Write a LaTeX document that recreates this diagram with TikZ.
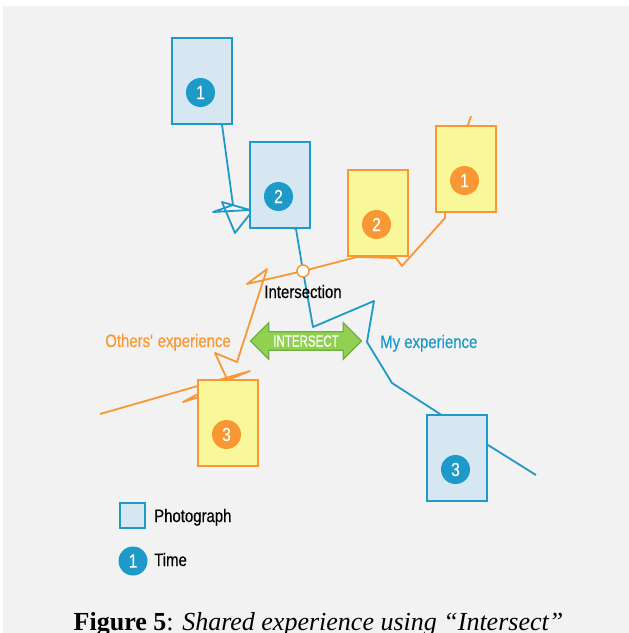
\documentclass[tikz,border=0pt]{standalone}
\usepackage{fontspec}
\usepackage{tikz}
\usetikzlibrary{calc}
\usetikzlibrary{backgrounds}
\usetikzlibrary{shapes.arrows}
\usetikzlibrary{positioning}
\newfontfamily\condfont[FakeStretch=0.83,FakeBold=0.4]{Liberation Sans}
\newfontfamily\narrowfont[FakeStretch=0.72,FakeBold=0.4]{Liberation Sans}
\newfontfamily\capfont{Liberation Serif}
\definecolor{myblue}{RGB}{29,154,200}
\definecolor{photofill}{RGB}{214,231,241}
\definecolor{othorange}{RGB}{247,152,52}
\definecolor{othfill}{RGB}{248,248,154}
\definecolor{isgreen}{RGB}{146,208,82}
\definecolor{isgreendark}{RGB}{110,176,66}
\definecolor{bggray}{RGB}{242,242,242}
\tikzset{photoB/.style={rectangle,draw=myblue,fill=photofill,line width=2pt,minimum width=60pt,minimum height=86pt,inner sep=0pt}}
\tikzset{photoO/.style={photoB,draw=othorange,fill=othfill}}
\tikzset{timeB/.style={circle,fill=myblue,minimum size=29pt,inner sep=0pt,text=white,font=\condfont\fontsize{19}{19}\selectfont}}
\tikzset{timeO/.style={timeB,fill=othorange}}
\tikzset{lbl/.style={inner sep=0pt,font=\condfont\fontsize{18}{18}\selectfont}}
\tikzset{trackB/.style={draw=myblue,line width=1.8pt,line join=round}}
\tikzset{trackO/.style={draw=othorange,line width=1.8pt,line join=round}}
\tikzset{isect/.style={circle,draw=othorange,fill=white,line width=1.5pt,minimum size=12pt,inner sep=0pt}}
\tikzset{
isarrow/.style={double arrow,fill=isgreen,draw=isgreendark,line width=1.2pt,
            minimum height=111pt,double arrow head extend=9pt,inner xsep=2pt,inner ysep=3pt,
            text=white,font=\narrowfont\fontsize{16}{16}\selectfont}
}
\begin{document}
\begin{tikzpicture}[x=1pt,y=-1pt]
\useasboundingbox (0,0) rectangle (629,633);
\foreach \i / \px / \py in {1/202/81,2/280/185,3/457/458}
{
	\node (PB\i) at (\px,\py) [photoB] {};
	\node (TB\i) at ($(PB\i)+(-1.5,11.5)$) [timeB] {\i};
}
\foreach \i / \px / \py in {1/466/169,2/378/213,3/228/423}
{
	\node (PO\i) at (\px,\py) [photoO] {};
	\node (TO\i) at ($(PO\i)+(-1.5,11.5)$) [timeO] {\i};
}
\node (X) at (303,271) [isect] {};
\node (XL) at (303,298) [lbl,anchor=base] {Intersection};
\node (ARR) at (306,341) [isarrow] {INTERSECT};
\node (OE) at (231,347) [lbl,anchor=base east,text=othorange] {Others\textquotesingle{} experience};
\node (ME) at (380,348) [lbl,anchor=base west,text=myblue] {My experience};
% legend
\node (LP) at (132.5,515.5) [photoB,minimum width=25pt,minimum height=25pt] {};
\node (LPT) at (154,522) [lbl,anchor=base west] {Photograph};
\node (LT) at (133,561) [timeB] {1};
\node (LTT) at (154,566) [lbl,anchor=base west] {Time};
\node (CAP) at (318.5,630) [anchor=base,inner sep=0pt,font=\capfont\fontsize{26}{26}\selectfont]
	{\textbf{Figure 5}: \textit{Shared experience using “Intersect”}};
\begin{scope}[on background layer]
	\fill[bggray] (3,6) rectangle (629,633);
	\draw[trackO] (100,414) -- (250,371) -- (215,385) -- (183,402) -- (215,392) -- (227,379)
		-- (215,353) -- (237,362) -- (267,269) -- (247,284) -- (X.center) -- (357,257)
		-- (396,258) -- (402,266) -- (445,218) -- (445,205) -- (468,125) -- (471,116);
	\draw[trackB] (220,110) -- (233,205) -- (213,212) -- (250,210) -- (222,202) -- (235,233)
		-- (250,214) -- (296,229) -- (X.center) -- (313,327) -- (374,301) -- (367,342)
		-- (392,383) -- (440,414) -- (488,445) -- (536,475);
\end{scope}
\end{tikzpicture}
\end{document}
